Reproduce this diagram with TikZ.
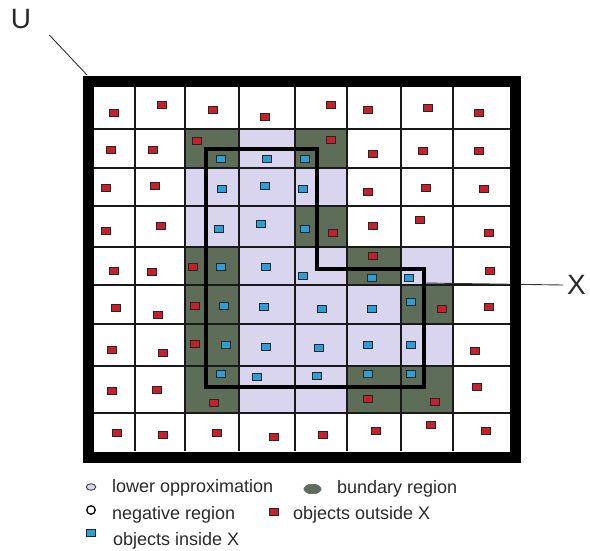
\documentclass[tikz,border=0pt]{standalone}
\usepackage{fontspec}
\setmainfont{Liberation Sans}
\usetikzlibrary{shapes.geometric}
\definecolor{lav}{HTML}{D9D5EF}
\definecolor{bgreen}{HTML}{5D6D57}
\definecolor{objred}{HTML}{C8202A}
\definecolor{objblue}{HTML}{2E9FD6}
\definecolor{txt}{HTML}{2A2A2A}
\tikzset{
  obj/.style={rectangle,draw=black!85,line width=0.8pt,minimum width=8.5pt,minimum height=6.5pt,inner sep=0pt},
  redobj/.style={obj,fill=objred},
  blueobj/.style={obj,fill=objblue},
  gridline/.style={line width=1.2pt,black!90},
  legtext/.style={anchor=base west,inner sep=0pt,text=txt,font=\fontsize{18}{20}\selectfont},
  biglabel/.style={inner sep=0pt,text=txt,font=\fontsize{28}{30}\selectfont},
  thinline/.style={line width=0.9pt,black!80}
}
\def\colx{{94,135,185,239,295,347,401,453,510}}
\def\rowy{{87,129,168,206,247,285,324,366,413,451}}
\begin{document}
\begin{tikzpicture}[x=1pt,y=-1pt]
\useasboundingbox (0,0) rectangle (590,550);
\fill[white] (0,0) rectangle (590,550);
% lower approximation cells
\foreach \c/\r in {4/2,3/3,4/3,5/3,3/4,4/4,4/5,5/5,7/5,4/6,5/6,6/6,4/7,5/7,6/7,7/7,4/8,5/8}{
  \pgfmathsetmacro\xa{\colx[\c-1]}\pgfmathsetmacro\xb{\colx[\c]}
  \pgfmathsetmacro\ya{\rowy[\r-1]}\pgfmathsetmacro\yb{\rowy[\r]}
  \fill[lav] (\xa,\ya) rectangle (\xb,\yb);
}
% boundary region cells
\foreach \c/\r in {3/2,5/2,5/4,3/5,6/5,3/6,7/6,3/7,3/8,6/8,7/8}{
  \pgfmathsetmacro\xa{\colx[\c-1]}\pgfmathsetmacro\xb{\colx[\c]}
  \pgfmathsetmacro\ya{\rowy[\r-1]}\pgfmathsetmacro\yb{\rowy[\r]}
  \fill[bgreen] (\xa,\ya) rectangle (\xb,\yb);
}
% grid
\foreach \x in {135,185,239,295,347,401,453}{\draw[gridline] (\x,87) -- (\x,451);}
\foreach \y in {129,168,206,247,285,324,366,413}{\draw[gridline] (94,\y) -- (510,\y);}
% X line
\coordinate (xa) at (424,283);
\node[biglabel,anchor=west] (X) at (567,285) {X};
\draw[thinline] (xa) -- ([xshift=-4pt]X.west);
% outer border U
\draw[line width=11pt] (88.5,81) rectangle (515.5,457);
\coordinate (uc) at (87,75);
\node[biglabel] (U) at (21,19) {U};
\draw[thinline] ([xshift=18pt,yshift=-6pt]U.south east) -- (uc);
% set X
\draw[line width=4pt,line join=miter] (206,149) -- (317,149) -- (317,269) -- (424,269) -- (424,387) -- (206,387) -- cycle;
% objects outside X
\foreach [count=\i] \x/\y in {114/113,162/105,213/110,265/117,331/105,368/110,428/108,479/113,
  111/150,153/150,197/141,331/140,373/154,423/151,479/151,
  106/188,155/186,368/192,426/188,484/189,
  106/231,161/226,333/233,373/226,420/220,489/233,
  114/271,152/272,193/267,373/256,490/271,
  116/308,158/315,195/306,442/309,489/307,
  112/350,163/353,195/344,475/351,
  112/391,157/390,214/403,368/399,435/402,477/387,
  117/433,163/435,217/433,274/437,323/435,376/431,431/425,486/431}{
  \node[redobj] (r\i) at (\x,\y) {};
}
% objects inside X
\foreach [count=\i] \x/\y in {221/159,267/159,305/159,
  222/189,265/186,303/189,
  219/229,261/224,305/229,
  221/267,266/267,303/276,372/278,409/278,
  224/306,264/307,322/309,372/309,411/302,
  226/345,266/347,319/348,368/345,411/345,
  221/374,257/377,317/376,368/374,411/374}{
  \node[blueobj] (b\i) at (\x,\y) {};
}
% legend
\node[ellipse,draw=black!75,line width=0.9pt,fill=lav,minimum width=9.5pt,minimum height=6.5pt,inner sep=0pt] (lgl) at (91,487) {};
\node[legtext] (tl) at (112,492) {lower opproximation};
\fill[bgreen,draw=black!55,line width=0.7pt,rounded corners=1.5pt] (303,489) -- (307.5,484.5) -- (317.5,484.5) -- (322,489) -- (317.5,493.5) -- (307.5,493.5) -- cycle;
\node[legtext] (tb) at (337,493) {bundary region};
\node[circle,draw=black,line width=1.3pt,fill=white,minimum size=8.5pt,inner sep=0pt] (lgn) at (91,510) {};
\node[legtext] (tn) at (112,519) {negative region};
\node[redobj] (lgr) at (274,512) {};
\node[legtext] (tr) at (293,519) {objects outside X};
\node[blueobj] (lgi) at (91,533) {};
\node[legtext] (ti) at (113,545) {objects inside X};
\end{tikzpicture}
\end{document}
